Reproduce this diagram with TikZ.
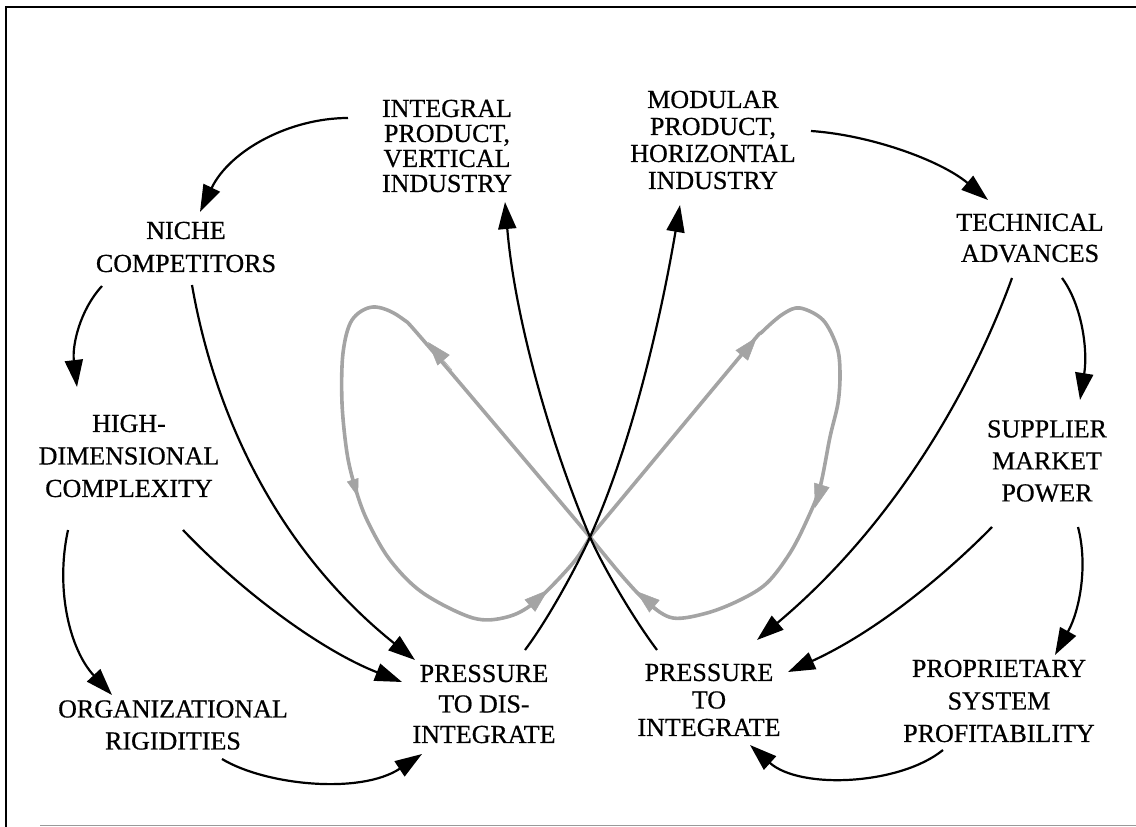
\documentclass[tikz,border=0pt]{standalone}
\usepackage{fontspec}
\setmainfont{Liberation Serif}
\newfontfamily\lblfont{Liberation Serif}[FakeBold=0.6]
\usetikzlibrary{arrows.meta}
\definecolor{loopgray}{HTML}{A4A4A4}
\begin{document}
\begin{tikzpicture}[x=1pt,y=-1pt,
  lbl/.style={align=center, inner sep=0pt, font=\lblfont\fontsize{26}{#1}\selectfont},
  lbl/.default=32,
  causal/.style={line width=2.2pt, -{Triangle[length=27pt,width=18pt]}},
  cycleline/.style={loopgray, line width=3.6pt, line join=round, line cap=round},
  looptip/.style={loopgray, line width=0.5pt, -{Triangle[length=24pt,width=16pt]}}]
\useasboundingbox (0,0) rectangle (1136,827);

% frame
\draw[line width=2.4pt] (6,827) -- (6,7) -- (1136,7);
\draw[black!40, line width=1.5pt] (40,825.5) -- (1136,825.5);

% labels
\node[lbl=25]   (integral)  at (447,146)  {INTEGRAL\\PRODUCT,\\VERTICAL\\INDUSTRY};
\node[lbl=27]   (modular)   at (713,140)  {MODULAR\\PRODUCT,\\HORIZONTAL\\INDUSTRY};
\node[lbl=33]   (niche)     at (186,247)  {NICHE\\COMPETITORS};
\node[lbl=31]   (technical) at (1030,238) {TECHNICAL\\ADVANCES};
\node[lbl=32.5] (high)      at (129,456)  {HIGH-\\DIMENSIONAL\\COMPLEXITY};
\node[lbl=32]   (supplier)  at (1047,461) {SUPPLIER\\MARKET\\POWER};
\node[lbl=32]   (org)       at (173,725)  {ORGANIZATIONAL\\RIGIDITIES};
\node[lbl=30.5] (pdis)      at (484,704)  {PRESSURE\\TO DIS-\\INTEGRATE};
\node[lbl=27.5] (pint)      at (709,700)  {PRESSURE\\TO\\INTEGRATE};
\node[lbl=32.5] (prop)      at (999,701)  {PROPRIETARY\\SYSTEM\\PROFITABILITY};

\coordinate (X) at (590,537);

% grey figure-eight cycle
\draw[cycleline] plot[smooth, tension=0.55] coordinates {(X) (430,348) (400,317) (373,307) (352,320) (343,353) (342,403) (347,453) (355,487) (367,520) (390,560) (423,593) (473,618) (507,617) (535,602) (573,563) (X)};
\draw[cycleline] plot[smooth, tension=0.55] coordinates {(X) (743,353) (762,332) (783,314) (800,308) (823,320) (837,347) (840,373) (838,403) (830,437) (820,487) (807,520) (790,553) (767,583) (740,600) (707,613) (673,618) (648,603) (623,577) (X)};
\draw[looptip] (452,370) -- (428,342);
\draw[looptip, -{Triangle[length=18pt,width=12pt]}] (350,471) -- (358,497);
\draw[looptip] (526,609) -- (548,590);
\draw[looptip] (738,360) -- (757,337);
\draw[looptip] (823,481) -- (815,508);
\draw[looptip] (659,610) -- (636,591);

% causal links, left side
\draw[causal] ([shift={(-99,-28)}]integral.center) .. controls (290,118) and (230,150) .. ([shift={(14,-35)}]niche.center);
\draw[causal] ([shift={(-84,39)}]niche.center) .. controls (80,310) and (72,345) .. ([shift={(-52,-69)}]high.center);
\draw[causal] ([shift={(6,38)}]niche.center) .. controls (212,400) and (268,542) .. ([shift={(-69,-44)}]pdis.center);
\draw[causal] ([shift={(54,74)}]high.center) .. controls (240,590) and (320,650) .. ([shift={(-82,-22)}]pdis.center);
\draw[causal] ([shift={(-61,74)}]high.center) .. controls (55,590) and (70,650) .. ([shift={(-61,-30)}]org.center);
\draw[causal] ([shift={(49,34)}]org.center) .. controls (265,785) and (360,795) .. ([shift={(-62,50)}]pdis.center);

% the two crossing links
\draw[causal] ([shift={(41,-54)}]pdis.center) .. controls (549,618) and (578,564) .. (X)
  .. controls (631,446) and (660,323) .. ([shift={(-33,65)}]modular.center);
\draw[causal] ([shift={(-52,-50)}]pint.center) .. controls (633,618) and (602,565) .. (X)
  .. controls (551,445) and (515,320) .. ([shift={(58,56)}]integral.center);

% causal links, right side
\draw[causal] ([shift={(98,-9)}]modular.center) .. controls (870,135) and (940,160) .. ([shift={(-42,-38)}]technical.center);
\draw[causal] ([shift={(32,40)}]technical.center) .. controls (1082,305) and (1088,350) .. ([shift={(33,-61)}]supplier.center);
\draw[causal] ([shift={(-18,40)}]technical.center) .. controls (975,380) and (900,520) .. ([shift={(48,-60)}]pint.center);
\draw[causal] ([shift={(-55,66)}]supplier.center) .. controls (950,570) and (880,630) .. ([shift={(79,-28)}]pint.center);
\draw[causal] ([shift={(31,66)}]supplier.center) .. controls (1088,565) and (1080,610) .. ([shift={(56,-46)}]prop.center);
\draw[causal] ([shift={(-56,49)}]prop.center) .. controls (900,785) and (800,790) .. ([shift={(41,45)}]pint.center);
\end{tikzpicture}
\end{document}
